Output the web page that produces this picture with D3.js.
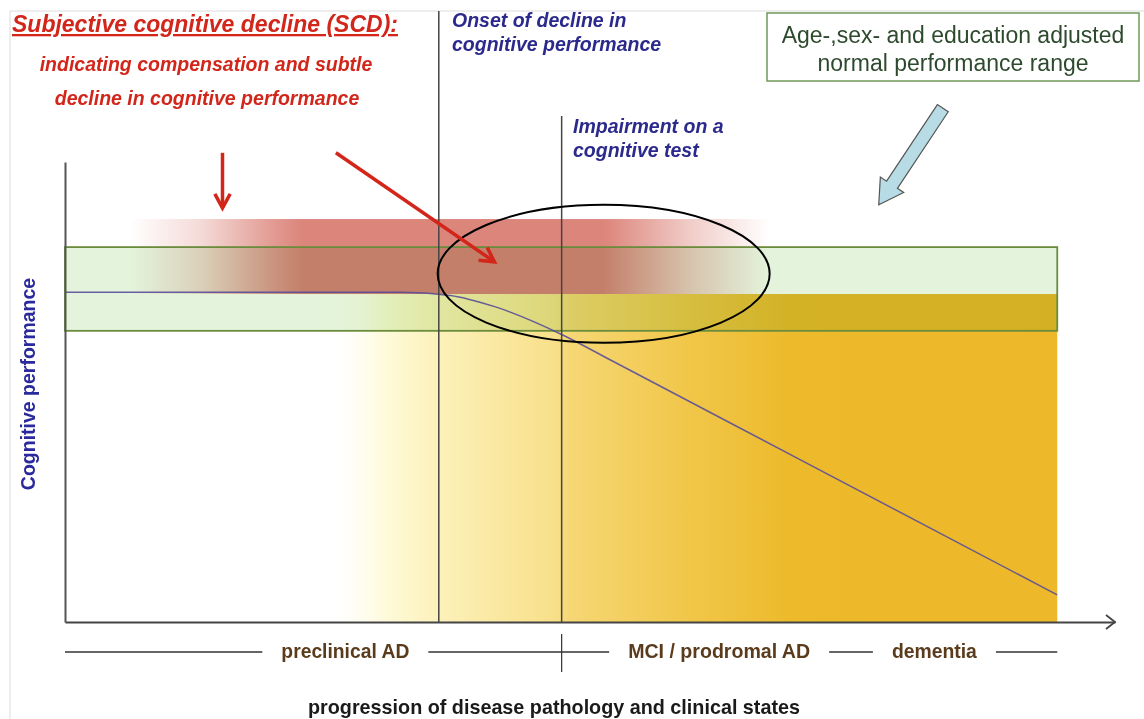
<!DOCTYPE html>
<meta charset="utf-8">
<style>
body { margin: 0; background: #fff; }
text { font-family: "Liberation Sans", Arial, sans-serif; }
</style>
<svg width="1144" height="719"></svg>
<script src="https://cdn.jsdelivr.net/npm/d3@7"></script>
<script>
// progression of disease (x) and cognitive performance (y), arbitrary units 0..10
var curveProgress    = [0, 3.2, 3.67, 4.1, 4.74, 5.2, 7.0, 9.45];
var curvePerformance = [7.17, 7.17, 7.10, 6.85, 6.24, 5.69, 3.53, 0.59];
var normalRange = [6.33, 8.15];      // age-, sex-, education adjusted range
var scdRange = [7.13, 8.76];         // subjective decline band
var scdExtent = [0.62, 6.71];
var pathologyExtent = [2.52, 9.45];
var markers = [3.56, 4.73];          // onset of decline, impairment on a test
var stageNames = ["preclinical AD", "MCI / prodromal AD", "dementia"];
var stageCenters = [2.67, 6.23, 8.28];
var stageWidths = [128, 182, 85];

var svg = d3.select("svg"),
    width = +svg.attr("width"),
    height = +svg.attr("height");

var x = d3.scaleLinear().domain([0, 10]).range([65, 1115]);
var y = d3.scaleLinear().domain([0, 10]).range([622, 162]);

// faint frame
svg.append("path").attr("d", "M10,719V11H1144").attr("fill", "none")
    .attr("stroke", "#dcdcdc").attr("stroke-width", 1);

var defs = svg.append("defs");

// yellow/orange pathology gradient
var pg = defs.append("linearGradient").attr("id", "patho")
    .attr("gradientUnits", "userSpaceOnUse")
    .attr("x1", x(pathologyExtent[0])).attr("x2", x(pathologyExtent[1]))
    .attr("y1", 0).attr("y2", 0);
[[0, "#fffef5", 0], [0.08, "#fefad8", 1], [0.15, "#fcf1ba", 1], [0.31, "#f8e08a", 1],
 [0.33, "#f6d775", 1], [0.48, "#f1c84c", 1], [0.63, "#edba2c", 1], [1, "#edb829", 1]]
  .forEach(function(s) {
    pg.append("stop").attr("offset", s[0]).attr("stop-color", s[1]).attr("stop-opacity", s[2]);
  });

// red SCD gradient
var rg = defs.append("linearGradient").attr("id", "scd")
    .attr("gradientUnits", "userSpaceOnUse")
    .attr("x1", x(scdExtent[0])).attr("x2", x(scdExtent[1]))
    .attr("y1", 0).attr("y2", 0);
[[0, 0], [0.11, 0.3], [0.23, 0.85], [0.27, 1], [0.74, 1], [0.88, 0.4], [1, 0]]
  .forEach(function(s) {
    rg.append("stop").attr("offset", s[0]).attr("stop-color", "#dc857b").attr("stop-opacity", s[1]);
  });

// pathology area
svg.append("rect")
    .attr("x", x(pathologyExtent[0]))
    .attr("width", x(pathologyExtent[1]) - x(pathologyExtent[0]))
    .attr("y", y(scdRange[0]))
    .attr("height", y(0) - y(scdRange[0]))
    .attr("fill", "url(#patho)");

// SCD band
svg.append("rect")
    .attr("x", x(scdExtent[0]))
    .attr("width", x(scdExtent[1]) - x(scdExtent[0]))
    .attr("y", y(scdRange[1]))
    .attr("height", y(scdRange[0]) - y(scdRange[1]))
    .attr("fill", "url(#scd)");

// normal performance range
svg.append("rect")
    .attr("x", x(0)).attr("width", x(pathologyExtent[1]) - x(0))
    .attr("y", y(normalRange[1])).attr("height", y(normalRange[0]) - y(normalRange[1]))
    .attr("fill", "#e4f4dc")
    .style("mix-blend-mode", "multiply");
svg.append("rect")
    .attr("x", x(0)).attr("width", x(pathologyExtent[1]) - x(0))
    .attr("y", y(normalRange[1])).attr("height", y(normalRange[0]) - y(normalRange[1]))
    .attr("fill", "none").attr("stroke", "#6b8c3c").attr("stroke-width", 1.8);

// performance curve
var line = d3.line()
    .x(function(d, i) { return x(curveProgress[i]); })
    .y(function(d) { return y(d); })
    .curve(d3.curveMonotoneX);
svg.append("path").datum(curvePerformance)
    .attr("d", line).attr("fill", "none")
    .attr("stroke", "#5a4f98").attr("stroke-width", 1.5).attr("stroke-opacity", 0.9);

// marker lines
var markerTops = [11, 116];
svg.selectAll(".marker").data(markers).enter().append("line")
    .attr("class", "marker")
    .attr("x1", function(d) { return x(d); }).attr("x2", function(d) { return x(d); })
    .attr("y1", function(d, i) { return markerTops[i]; }).attr("y2", y(0))
    .attr("stroke", "#444").attr("stroke-width", 1.5);

// axes
var yAxis = svg.append("g").attr("transform", "translate(" + x(0) + ",0)")
    .call(d3.axisLeft(y).tickValues([]).tickSizeOuter(0));
yAxis.select(".domain").attr("stroke", "#555").attr("stroke-width", 2);
var xAxis = svg.append("g").attr("transform", "translate(0," + y(0) + ")")
    .call(d3.axisBottom(x).tickValues([]).tickSizeOuter(0));
xAxis.select(".domain").attr("stroke", "#444").attr("stroke-width", 2);
svg.append("path")
    .attr("d", "M" + (x(10) - 9) + "," + (y(0) - 7) + "L" + x(10) + "," + y(0) + "L" + (x(10) - 9) + "," + (y(0) + 7))
    .attr("fill", "none").attr("stroke", "#444").attr("stroke-width", 1.8);

// ellipse
svg.append("ellipse")
    .attr("cx", x(5.13)).attr("cy", y(7.57))
    .attr("rx", 166).attr("ry", 69)
    .attr("fill", "none").attr("stroke", "#000").attr("stroke-width", 2);

// red arrows
function redArrow(x1, y1, x2, y2) {
  var a = Math.atan2(y2 - y1, x2 - x1), h = 16, s = 0.5;
  svg.append("line").attr("x1", x1).attr("y1", y1).attr("x2", x2 - Math.cos(a) * 2).attr("y2", y2 - Math.sin(a) * 2)
      .attr("stroke", "#d3261b").attr("stroke-width", 3.5);
  svg.append("path")
      .attr("d", "M" + (x2 - h * Math.cos(a - s)) + "," + (y2 - h * Math.sin(a - s)) +
                 "L" + x2 + "," + y2 +
                 "L" + (x2 - h * Math.cos(a + s)) + "," + (y2 - h * Math.sin(a + s)))
      .attr("fill", "none").attr("stroke", "#d3261b").attr("stroke-width", 3.5)
      .attr("stroke-linejoin", "miter");
}
redArrow(x(1.5), y(10.2), x(1.5), y(9.0));
redArrow(x(2.58), y(10.2), x(4.09), y(7.83));

// block arrow to normal range
(function() {
  var tx = x(8.36), ty = y(11.17), px = x(7.75), py = y(9.07);
  var L = Math.hypot(px - tx, py - ty), ux = (px - tx) / L, uy = (py - ty) / L;
  var nx = -uy, ny = ux, w = 6.5, hw = 14, hl = 24;
  var bx = px - ux * hl, by = py - uy * hl;
  var pts = [[tx + nx * w, ty + ny * w], [bx + nx * w, by + ny * w], [bx + nx * hw, by + ny * hw], [px, py],
             [bx - nx * hw, by - ny * hw], [bx - nx * w, by - ny * w], [tx - nx * w, ty - ny * w]];
  svg.append("polygon").attr("points", pts.map(function(p) { return p.join(","); }).join(" "))
      .attr("fill", "#b8dce5").attr("stroke", "#555").attr("stroke-width", 1.2);
})();

// SCD text
svg.append("text").attr("x", 12).attr("y", 32)
    .attr("fill", "#d3261b").attr("font-size", 23).attr("font-weight", "bold").attr("font-style", "italic")
    .attr("text-decoration", "underline")
    .text("Subjective cognitive decline (SCD):");
svg.append("text").attr("x", 206).attr("y", 71).attr("text-anchor", "middle")
    .attr("fill", "#d3261b").attr("font-size", 19.5).attr("font-weight", "bold").attr("font-style", "italic")
    .text("indicating compensation and subtle");
svg.append("text").attr("x", 207).attr("y", 105).attr("text-anchor", "middle")
    .attr("fill", "#d3261b").attr("font-size", 19.5).attr("font-weight", "bold").attr("font-style", "italic")
    .text("decline in cognitive performance");

// blue annotations
function blueText(tx, ty, lines) {
  var t = svg.append("text").attr("fill", "#2b2a8c").attr("font-size", 19.5)
      .attr("font-weight", "bold").attr("font-style", "italic");
  lines.forEach(function(s, i) {
    t.append("tspan").attr("x", tx).attr("y", ty + i * 24).text(s);
  });
}
blueText(452, 27, ["Onset of decline in", "cognitive performance"]);
blueText(573, 133, ["Impairment on a", "cognitive test"]);

// normal range box
svg.append("rect").attr("x", 767).attr("y", 13).attr("width", 372).attr("height", 68)
    .attr("fill", "#fff").attr("stroke", "#6f9a58").attr("stroke-width", 1.5);
var bt = svg.append("text").attr("text-anchor", "middle").attr("fill", "#2e4a2e").attr("font-size", 23);
bt.append("tspan").attr("x", 953).attr("y", 43).text("Age-,sex- and education adjusted");
bt.append("tspan").attr("x", 953).attr("y", 71).text("normal performance range");

// y axis title
svg.append("text")
    .attr("transform", "translate(35,384) rotate(-90)")
    .attr("text-anchor", "middle").attr("fill", "#2b2a9c")
    .attr("font-size", 19.5).attr("font-weight", "bold")
    .text("Cognitive performance");

// stage labels with separating lines (narrow bold look via textLength)
var stageY = 652;
svg.selectAll(".stage").data(stageNames).enter().append("text")
    .attr("class", "stage")
    .attr("x", function(d, i) { return x(stageCenters[i]); })
    .attr("y", stageY + 6)
    .attr("text-anchor", "middle")
    .attr("fill", "#5a3b1c").attr("font-size", 21).attr("font-weight", "bold")
    .attr("textLength", function(d, i) { return stageWidths[i]; })
    .attr("lengthAdjust", "spacingAndGlyphs")
    .text(function(d) { return d; });
var gap = 19, prev = x(0);
stageNames.forEach(function(d, i) {
  var c = x(stageCenters[i]), w = stageWidths[i];
  svg.append("line").attr("x1", prev).attr("x2", c - w / 2 - gap)
      .attr("y1", stageY).attr("y2", stageY).attr("stroke", "#333").attr("stroke-width", 1.5);
  prev = c + w / 2 + gap;
});
svg.append("line").attr("x1", prev).attr("x2", x(pathologyExtent[1]))
    .attr("y1", stageY).attr("y2", stageY).attr("stroke", "#333").attr("stroke-width", 1.5);
svg.append("line").attr("x1", x(markers[1])).attr("x2", x(markers[1]))
    .attr("y1", 634).attr("y2", 672).attr("stroke", "#333").attr("stroke-width", 1.2);

// x axis title
svg.append("text")
    .attr("x", 554).attr("y", 714).attr("text-anchor", "middle")
    .attr("fill", "#1a1a1a").attr("font-size", 21).attr("font-weight", "bold")
    .attr("textLength", 492).attr("lengthAdjust", "spacingAndGlyphs")
    .text("progression of disease pathology and clinical states");
</script>
